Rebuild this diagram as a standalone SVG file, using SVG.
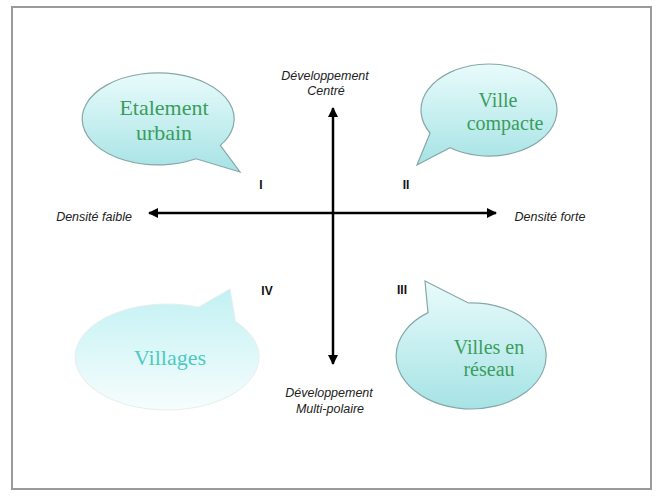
<svg xmlns="http://www.w3.org/2000/svg" width="661" height="503" viewBox="0 0 661 503">
<defs>
<linearGradient id="cyan" x1="0" y1="0" x2="0" y2="1">
<stop offset="0" stop-color="#e9fbfb"/>
<stop offset="1" stop-color="#a6e3e5"/>
</linearGradient>
<linearGradient id="pale" x1="0" y1="0" x2="0" y2="1">
<stop offset="0" stop-color="#c2f1f3"/>
<stop offset="1" stop-color="#f7fdfd"/>
</linearGradient>
<marker id="ah" viewBox="0 0 10 10" refX="9" refY="5" markerWidth="4" markerHeight="4" orient="auto-start-reverse" markerUnits="strokeWidth">
<path d="M0,0 L10,5 L0,10 Z" fill="#000"/>
</marker>
</defs>
<style>
.frame{fill:#fff;stroke:#9a9a9a;stroke-width:2}
.bub{fill:url(#cyan);stroke:#86a8a8;stroke-width:1.2}
.bubp{fill:url(#pale);stroke:#e6eeee;stroke-width:1}
.bt{font-family:"Liberation Serif",serif;font-size:22px;fill:#3a9d5d;text-anchor:middle}
.bs{font-family:"Liberation Serif",serif;font-size:20px;fill:#3a9d5d;text-anchor:middle}
.vt{font-family:"Liberation Serif",serif;font-size:22px;fill:#4ccac2;text-anchor:middle}
.lab{font-family:"Liberation Sans",Arial,sans-serif;font-size:12.5px;font-style:italic;fill:#222;text-anchor:middle}
.num{font-family:"Liberation Sans",Arial,sans-serif;font-size:12px;font-weight:bold;fill:#111;text-anchor:middle}
.ax{stroke:#000;stroke-width:2.5;fill:none;marker-start:url(#ah);marker-end:url(#ah)}
</style>
<rect class="frame" x="12" y="7" width="639" height="482"/>
<g id="connectors">
<line class="ax" x1="149" y1="213" x2="496" y2="213"/>
<line class="ax" x1="333" y1="108" x2="333" y2="364"/>
</g>
<g id="etalement">
<path class="bub" d="M220.3,145.4 L240,172 L196,158.8 A76,46 0 1 1 220.3,145.4 Z"/>
<text class="bt" x="164" y="115">Etalement</text>
<text class="bt" x="164" y="140">urbain</text>
</g>
<g id="ville-compacte">
<path class="bub" d="M430.1,133 L417,165 L450,147.7 A68,46 0 1 0 430.1,133 Z"/>
<text class="bs" x="498" y="107">Ville</text>
<text class="bs" x="505" y="130">compacte</text>
</g>
<g id="villages">
<path class="bubp" d="M198.5,307.2 L230,289 L235.4,321.5 A92,53 0 1 1 198.5,307.2 Z"/>
<text class="vt" x="170" y="365">Villages</text>
</g>
<g id="villes-reseau">
<path class="bub" d="M428,312.6 L425,281 L468.4,303 A75,53 0 1 1 428,312.6 Z"/>
<text class="bs" x="489" y="354">Villes en</text>
<text class="bs" x="489" y="376">réseau</text>
</g>
<g id="labels">
<text class="lab" x="325" y="80">Développement</text>
<text class="lab" x="326" y="95">Centré</text>
<text class="lab" x="94" y="221">Densité faible</text>
<text class="lab" x="550" y="221">Densité forte</text>
<text class="lab" x="329" y="397">Développement</text>
<text class="lab" x="330" y="413">Multi-polaire</text>
</g>
<g id="quadrants">
<text class="num" x="261" y="189">I</text>
<text class="num" x="406" y="189">II</text>
<text class="num" x="267" y="295">IV</text>
<text class="num" x="402" y="294">III</text>
</g>
</svg>
